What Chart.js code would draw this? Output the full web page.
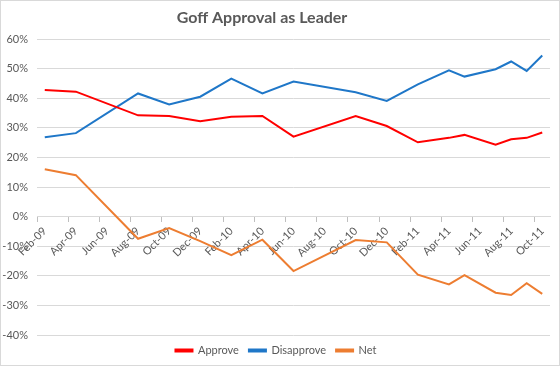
<!DOCTYPE html>
<html>
<head>
<meta charset="utf-8">
<script src="https://cdn.jsdelivr.net/npm/chart.js"></script>
<style>
  html, body { margin: 0; padding: 0; background: #fff; }
  #wrap { width: 560px; height: 366px; }
</style>
</head>
<body>
<div id="wrap"><canvas id="chart"></canvas></div>
<script>
// every month on the date axis
const months = [
    'Feb-09', 'Mar-09', 'Apr-09', 'May-09', 'Jun-09', 'Jul-09', 'Aug-09', 'Sep-09', 'Oct-09', 'Nov-09', 'Dec-09', 'Jan-10',
    'Feb-10', 'Mar-10', 'Apr-10', 'May-10', 'Jun-10', 'Jul-10', 'Aug-10', 'Sep-10', 'Oct-10', 'Nov-10', 'Dec-10', 'Jan-11',
    'Feb-11', 'Mar-11', 'Apr-11', 'May-11', 'Jun-11', 'Jul-11', 'Aug-11', 'Sep-11', 'Oct-11'
]
// months that have a poll
const pollMonths = [
    'Feb-09', 'Apr-09', 'Aug-09', 'Oct-09', 'Dec-09', 'Feb-10', 'Apr-10', 'Jun-10', 'Oct-10',
    'Dec-10', 'Feb-11', 'Apr-11', 'May-11', 'Jul-11', 'Aug-11', 'Sep-11', 'Oct-11'
]
const approve = [42.8, 42.2, 34.2, 34.0, 32.2, 33.7, 34.0, 27.0, 34.0, 30.6, 25.1, 26.6, 27.6, 24.3, 26.1, 26.6, 28.4]
const disapprove = [26.8, 28.2, 41.6, 37.9, 40.5, 46.6, 41.6, 45.6, 42.0, 39.1, 44.7, 49.4, 47.3, 49.8, 52.4, 49.2, 54.4]
const net = [16.0, 14.0, -7.5, -3.9, -8.3, -13.0, -7.8, -18.4, -7.9, -8.7, -19.6, -22.9, -19.8, -25.7, -26.5, -22.5, -26.1]
const yTicks = [-40, -30, -20, -10, 0, 10, 20, 30, 40, 50, 60]
const title = 'Goff Approval as Leader'

const toPoints = (vals) => vals.map((v, i) => ({ x: pollMonths[i], y: v }))

const grey = '#595959'
const font = 'Lato, "Open Sans", sans-serif'

// white background, thin border, and the title (excel centres it a bit left of the middle)
const frame = {
    id: 'frame',
    beforeDraw(chart) {
        const c = chart.ctx
        c.save()
        c.fillStyle = '#fff'
        c.fillRect(0, 0, chart.width, chart.height)
        c.strokeStyle = '#d9d9d9'
        c.lineWidth = 1
        c.strokeRect(0.5, 0.5, chart.width - 1, chart.height - 1)
        c.restore()
    },
    afterDraw(chart) {
        const c = chart.ctx
        c.save()
        c.fillStyle = grey
        c.font = 'bold 16px ' + font
        c.textAlign = 'center'
        c.textBaseline = 'middle'
        c.fillText(title, 262, 18)
        c.restore()
    }
}

const line = (label, vals, color) => ({
    label: label,
    data: toPoints(vals),
    borderColor: color,
    backgroundColor: color,
    borderWidth: 2,
    pointRadius: 0,
    tension: 0,
    spanGaps: true,
})

new Chart(document.getElementById('chart'), {
    type: 'line',
    data: {
        labels: months,
        datasets: [
            line('Approve', approve, '#ff0000'),
            line('Disapprove', disapprove, '#1f77c8'),
            line('Net', net, '#ed7d31'),
        ],
    },
    options: {
        responsive: true,
        maintainAspectRatio: false,
        animation: false,
        layout: { padding: { left: 2, right: 10, top: 39, bottom: 0 } },
        plugins: {
            title: { display: false },
            legend: {
                position: 'bottom',
                labels: {
                    color: grey,
                    font: { family: font, size: 11 },
                    boxWidth: 17,
                    boxHeight: 2,
                    padding: 10,
                },
            },
            tooltip: { enabled: false },
        },
        scales: {
            x: {
                type: 'category',
                position: { y: 0 },
                offset: true,
                grid: {
                    offset: true,
                    drawOnChartArea: false,
                    drawTicks: true,
                    tickLength: 5,
                    color: (ctx) => ctx.index % 2 === 0 && ctx.index < months.length ? '#bfbfbf' : 'rgba(0,0,0,0)',
                },
                border: { display: true, color: '#d9d9d9' },
                ticks: {
                    autoSkip: false,
                    maxRotation: 45,
                    minRotation: 45,
                    padding: 3,
                    color: grey,
                    font: { family: font, size: 11 },
                    callback: (v, i) => i % 2 === 0 ? months[i] : '',
                },
            },
            y: {
                min: -40,
                max: 60,
                afterBuildTicks: (axis) => { axis.ticks = yTicks.map(v => ({ value: v })) },
                afterFit: (axis) => { axis.width = 35 },
                grid: { color: '#d9d9d9', drawTicks: false },
                border: { display: false },
                ticks: {
                    padding: 9,
                    color: grey,
                    font: { family: font, size: 11 },
                    callback: (v) => v + '%',
                },
            },
        },
    },
    plugins: [frame],
})
</script>
</body>
</html>
